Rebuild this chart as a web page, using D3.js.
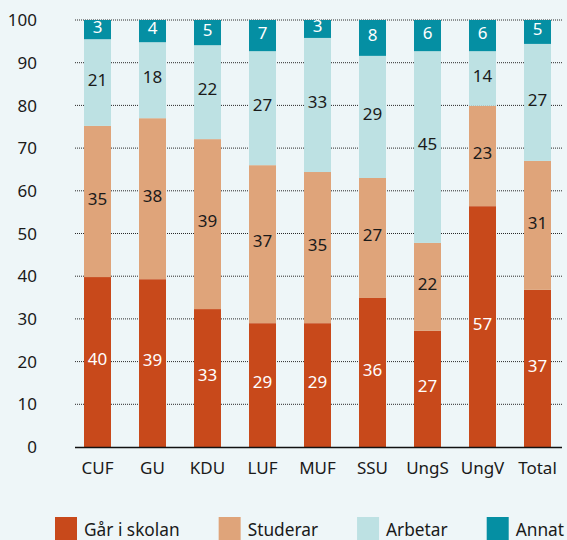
<!DOCTYPE html>
<html>
<head>
<meta charset="utf-8">
<script src="https://cdn.jsdelivr.net/npm/d3@7"></script>
<style>
html,body{margin:0;padding:0;background:#eef6f8;}
svg{display:block;}
text{font-family:"Noto Sans","Open Sans",sans-serif;}
</style>
</head>
<body>
<svg id="chart" width="567" height="540"></svg>
<script>
// Categories
const categories = ["CUF","GU","KDU","LUF","MUF","SSU","UngS","UngV","Total"];
// Segment sizes as drawn (percent)
const garISkolan = [39.8, 39.3, 32.3, 29.0, 29.0, 34.9, 27.2, 56.4, 36.8];
const studerar   = [35.4, 37.7, 39.8, 37.0, 35.4, 28.1, 20.6, 23.5, 30.2];
const arbetar    = [20.3, 17.8, 22.0, 26.7, 31.4, 28.6, 44.9, 12.8, 27.4];
const annat      = [ 4.5,  5.2,  5.9,  7.3,  4.2,  8.4,  7.3,  7.3,  5.6];
// Printed labels
const garLabels      = [40, 39, 33, 29, 29, 36, 27, 57, 37];
const studerarLabels = [35, 38, 39, 37, 35, 27, 22, 23, 31];
const arbetarLabels  = [21, 18, 22, 27, 33, 29, 45, 14, 27];
const annatLabels    = [3, 4, 5, 7, 3, 8, 6, 6, 5];
const yTicks = [0,10,20,30,40,50,60,70,80,90,100];
const seriesNames = ["Går i skolan","Studerar","Arbetar","Annat"];

const seriesValues = [garISkolan, studerar, arbetar, annat];
const seriesLabels = [garLabels, studerarLabels, arbetarLabels, annatLabels];
const colors = ["#c8491b","#dfa47a","#bde1e3","#058fa3"];
const labelColors = ["#ffffff","#1a1a1a","#1a1a1a","#ffffff"];

const svg = d3.select("#chart");
const x = d3.scaleBand().domain(categories).range([75, 560])
  .paddingInner(28/55).paddingOuter(9/55);
const y = d3.scaleLinear().domain([0,100]).range([447, 20]);

// gridlines
svg.append("g").selectAll("line").data(yTicks.filter(t=>t>0)).join("line")
  .attr("x1",75).attr("x2",562)
  .attr("y1",d=>y(d)).attr("y2",d=>y(d))
  .attr("stroke","#2a2a2a").attr("stroke-width",1)
  .attr("stroke-dasharray","1,1");

// y labels
svg.append("g").selectAll("text").data(yTicks).join("text")
  .attr("x",37).attr("y",d=>y(d)).attr("dy","0.36em")
  .attr("text-anchor","end").attr("font-size",17).attr("fill","#1a1a1a")
  .text(d=>d);

// stacked data
const rows = categories.map((c,i)=>{
  const r = {cat:c};
  seriesNames.forEach((s,k)=>{ r[s] = seriesValues[k][i]; });
  return r;
});
const stack = d3.stack().keys(seriesNames)(rows);

const g = svg.append("g");
stack.forEach((layer,k)=>{
  g.append("g").selectAll("rect").data(layer).join("rect")
    .attr("x",d=>x(d.data.cat))
    .attr("width",x.bandwidth())
    .attr("y",d=>y(d[1]))
    .attr("height",d=>y(d[0])-y(d[1]))
    .attr("fill",colors[k]);
  g.append("g").selectAll("text").data(layer).join("text")
    .attr("x",d=>x(d.data.cat)+x.bandwidth()/2)
    .attr("y",d=>(y(d[0])+y(d[1]))/2 - 3)
    .attr("dy","0.36em")
    .attr("text-anchor","middle")
    .attr("font-size",17)
    .attr("fill",labelColors[k])
    .text((d,i)=>seriesLabels[k][i]);
});

// x axis line
svg.append("line").attr("x1",75).attr("x2",562).attr("y1",447.5).attr("y2",447.5)
  .attr("stroke","#111").attr("stroke-width",1.5);

// category labels
svg.append("g").selectAll("text").data(categories).join("text")
  .attr("x",d=>x(d)+x.bandwidth()/2).attr("y",474)
  .attr("text-anchor","middle").attr("font-size",17).attr("fill","#1a1a1a")
  .text(d=>d);

// legend
const leg = svg.append("g");
let lx = 55;
seriesNames.forEach((s,k)=>{
  leg.append("rect").attr("x",lx).attr("y",517).attr("width",22).attr("height",24)
    .attr("fill",colors[k]);
  const t = leg.append("text").attr("x",lx+29).attr("y",536)
    .attr("font-size",17.3).attr("fill","#1a1a1a").text(s);
  const w = t.node().getComputedTextLength();
  lx = lx + 29 + w + 39;
});
</script>
</body>
</html>
